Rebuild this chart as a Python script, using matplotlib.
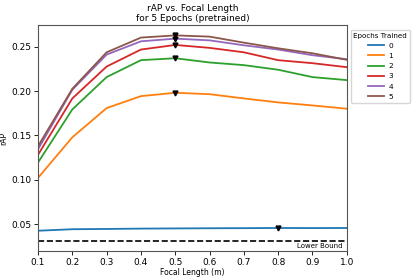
import numpy as np
import matplotlib.pyplot as plt

# focal lengths (m)
focal = [0.1, 0.2, 0.3, 0.4, 0.5, 0.6, 0.7, 0.8, 0.9, 1.0]

# rAP per epoch
rap_0 = [0.0424, 0.0441, 0.0444, 0.0448, 0.0450, 0.0452, 0.0453, 0.0455, 0.0454, 0.0455]
rap_1 = [0.1021, 0.1479, 0.1809, 0.1944, 0.1982, 0.1966, 0.1918, 0.1873, 0.1839, 0.1802]
rap_2 = [0.1194, 0.1794, 0.2159, 0.2350, 0.2372, 0.2324, 0.2294, 0.2242, 0.2159, 0.2125]
rap_3 = [0.1281, 0.1918, 0.2278, 0.2470, 0.2522, 0.2489, 0.2439, 0.2350, 0.2316, 0.2271]
rap_4 = [0.1344, 0.2016, 0.2413, 0.2563, 0.2593, 0.2574, 0.2518, 0.2470, 0.2406, 0.2361]
rap_5 = [0.1378, 0.2027, 0.2439, 0.2605, 0.2630, 0.2616, 0.2548, 0.2484, 0.2428, 0.2354]

epochs = ['0', '1', '2', '3', '4', '5']
lower_bound = 0.031

fig = plt.figure(figsize=(4.15, 2.79), dpi=100)
ax = fig.add_axes([0.0916, 0.100, 0.744, 0.810])

for label, vals in zip(epochs, [rap_0, rap_1, rap_2, rap_3, rap_4, rap_5]):
    ax.plot(focal, vals, label=label, linewidth=1.3)
    i = int(np.argmax(vals))
    ax.plot(focal[i], vals[i], 'kv', markersize=3.5)

ax.axhline(lower_bound, color='black', linestyle='--', linewidth=1.2)
ax.text(0.985, lower_bound - 0.003, 'Lower Bound', transform=ax.get_yaxis_transform(),
        ha='right', va='top', fontsize=5)

ax.set_xlim(0.1, 1.0)
ax.set_xticks(focal)
ax.tick_params(labelsize=6.5, length=3, width=0.6, pad=2)
for s in ax.spines.values():
    s.set_color('#555555')
    s.set_linewidth(0.8)

ax.set_title('rAP vs. Focal Length\nfor 5 Epochs (pretrained)', fontsize=6.5, pad=3)
ax.set_xlabel('Focal Length (m)', fontsize=5.5, labelpad=1)
ax.set_ylabel('rAP', fontsize=5.5, labelpad=2)

ax.legend(title='Epochs Trained', loc='upper left', bbox_to_anchor=(1.005, 0.99),
          fontsize=5.3, title_fontsize=5.1, handlelength=2.2, handletextpad=0.6,
          labelspacing=0.55, borderaxespad=0.3, borderpad=0.4)

fig.savefig('out.png', dpi=100)
